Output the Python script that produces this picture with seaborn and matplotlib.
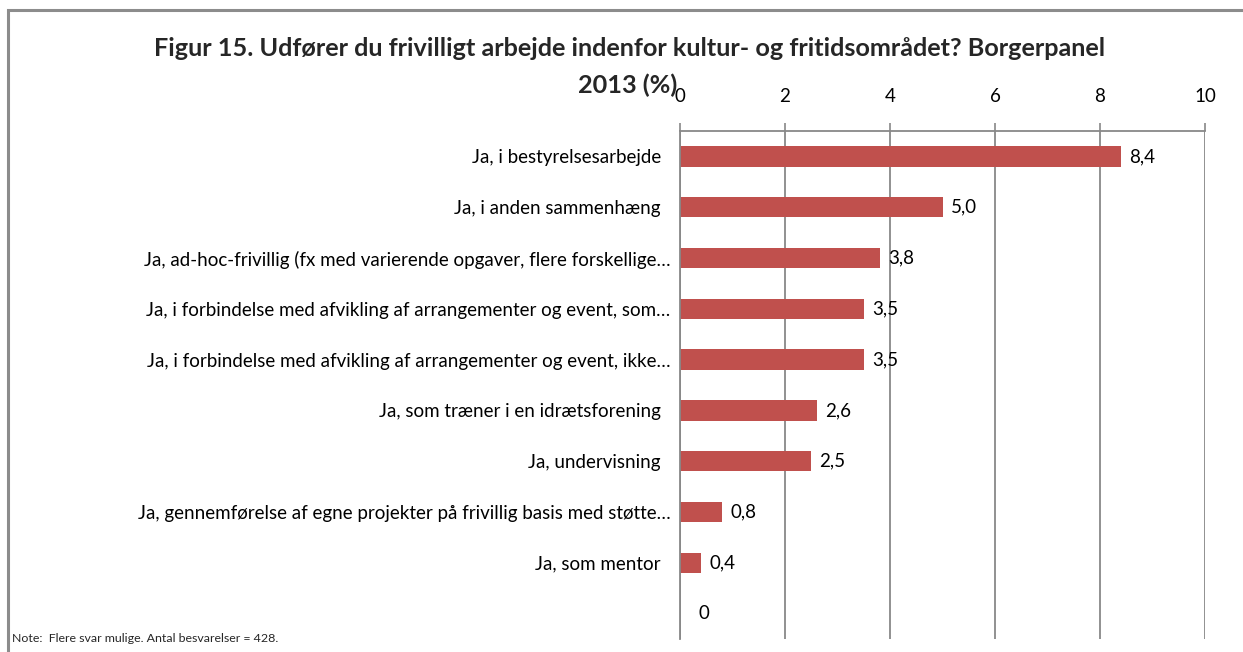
import matplotlib
matplotlib.use("Agg")
import matplotlib.pyplot as plt
import seaborn as sns
import pandas as pd
import numpy as np
from matplotlib.patches import Rectangle

categories = [
    "Ja, i bestyrelsesarbejde  ",
    "Ja, i anden sammenhæng  ",
    "Ja, ad-hoc-frivillig (fx med varierende opgaver, flere forskellige…",
    "Ja, i forbindelse med afvikling af arrangementer og event, som…",
    "Ja, i forbindelse med afvikling af arrangementer og event, ikke…",
    "Ja, som træner i en idrætsforening  ",
    "Ja, undervisning  ",
    "Ja, gennemførelse af egne projekter på frivillig basis med støtte…",
    "Ja, som mentor  ",
    " ",
]
values = [8.4, 5.0, 3.8, 3.5, 3.5, 2.6, 2.5, 0.8, 0.4, 0.0]
value_labels = ["8,4", "5,0", "3,8", "3,5", "3,5", "2,6", "2,5", "0,8", "0,4", "0"]
x_ticks = [0, 2, 4, 6, 8, 10]

title_line1 = "Figur 15. Udfører du frivilligt arbejde indenfor kultur- og fritidsområdet? Borgerpanel"
title_line2 = "2013 (%)"
note = "Note:  Flere svar mulige. Antal besvarelser = 428."

sns.set_style("white")
plt.rcParams['font.family'] = ['Lato', 'DejaVu Sans']

W, H = 1243, 652
fig = plt.figure(figsize=(W / 100, H / 100), dpi=100)
ax = fig.add_axes([680 / W, 1 - 639 / H, (1205 - 680) / W, (639 - 131) / H])

df = pd.DataFrame({"cat": categories, "val": values})
sns.barplot(data=df, y="cat", x="val", orient="h", color="#C0504D",
            width=0.4, ax=ax, saturation=1, edgecolor="none")

grey = "#888888"
fs = 13.5
ax.set_xlim(0, 10)
ax.set_ylim(len(categories) - 0.5, -0.5)
ax.xaxis.tick_top()
ax.set_xticks(x_ticks)
ax.set_xticklabels([str(t) for t in x_ticks])
ax.tick_params(axis="x", which="major", length=6, width=1.2, color=grey,
               pad=13, labelsize=fs, labelcolor="black", direction="out")
ax.set_yticks(np.arange(len(categories)))
ax.set_yticklabels(categories)
ax.set_yticks(np.arange(len(categories) + 1) - 0.5, minor=True)
ax.tick_params(axis="y", which="major", length=0, pad=7, labelsize=fs, labelcolor="black")
ax.tick_params(axis="y", which="minor", length=5, width=1.2, color=grey, direction="out")
ax.set_xlabel("")
ax.set_ylabel("")

ax.grid(axis="x", color=grey, linewidth=1.3)
ax.grid(axis="y", visible=False)
ax.set_axisbelow(True)
for s in ["right", "bottom"]:
    ax.spines[s].set_visible(False)
for s in ["top", "left"]:
    ax.spines[s].set_visible(True)
    ax.spines[s].set_color(grey)
    ax.spines[s].set_linewidth(1.3)

for i, (v, lab) in enumerate(zip(values, value_labels)):
    off = 6 if v > 0 else 13
    ax.annotate(lab, xy=(v, i), xytext=(off, 0), textcoords="offset points",
                ha="left", va="center", fontsize=fs, color="black")

fig.text(630 / W, 1 - 48 / H, title_line1, ha="center", va="center", fontsize=18.2,
         fontweight="bold")
fig.text(628 / W, 1 - 85 / H, title_line2, ha="center", va="center", fontsize=18.2,
         fontweight="bold")
fig.text(12 / W, 1 - 638 / H, note, ha="left", va="center", fontsize=8.9)

frame = Rectangle((8 / W, -0.5), 2, 0.5 + (1 - 10 / H), transform=fig.transFigure,
                  fill=False, edgecolor="#8c8c8c", linewidth=2.2, clip_on=False)
fig.patches.append(frame)

fig.savefig("out.png", dpi=100)
